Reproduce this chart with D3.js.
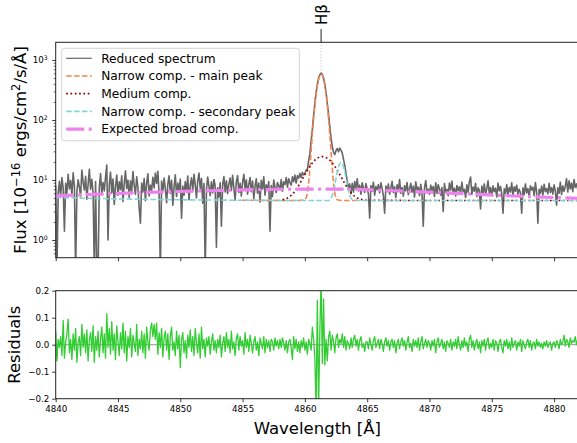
<!DOCTYPE html>
<html>
<head>
<meta charset="utf-8">
<script src="https://cdn.jsdelivr.net/npm/d3@7"></script>
<style>
  body { margin: 0; background: #fff; }
  svg { font-family: "DejaVu Sans", sans-serif; }
</style>
</head>
<body>
<svg id="chart" width="577" height="443"></svg>
<script>
// spectrum sampled every 0.1 A from 4840.0 (one line = 1 A)
const waveStart = 4840;
const waveStep = 0.1;

const spectrumFlux = [
  8.2, 0.3, 6.1, 9.5, 5.2, 11.0, 7.3, 1.4, 8.8, 6.0,
  12.4, 7.1, 9.8, 5.5, 13.2, 8.0, 0.3, 6.4, 10.1, 7.7,
  5.3, 14.6, 9.2, 6.8, 11.5, 4.8, 8.4, 15.1, 7.0, 10.3,
  6.2, 0.3, 9.4, 0.3, 0.3, 7.5, 12.8, 5.9, 9.1, 6.6,
  11.2, 17.8, 1.0, 8.3, 13.5, 6.1, 10.4, 3.9, 7.8, 12.1,
  5.6, 9.3, 6.9, 11.8, 4.4, 8.6, 14.2, 7.2, 10.0, 5.1,
  9.7, 6.4, 13.8, 8.1, 5.8, 11.3, 7.5, 3.4, 1.9, 8.9,
  6.3, 10.6, 4.5, 9.0, 12.7, 5.4, 8.2, 6.7, 11.1, 7.4,
  13.1, 8.8, 14.0, 5.7, 0.3, 9.6, 6.5, 10.8, 7.1, 4.2,
  8.5, 11.7, 6.0, 9.9, 3.8, 7.6, 12.2, 5.3, 8.9, 6.8,
  10.4, 2.3, 7.9, 5.6, 9.4, 6.3, 11.6, 4.7, 8.1, 10.9,
  6.6, 12.5, 8.3, 5.0, 9.8, 13.0, 7.2, 10.6, 4.1, 8.7,
  0.3, 6.9, 11.2, 7.8, 5.5, 9.3, 6.1, 10.2, 8.0, 0.76,
  7.4, 5.2, 9.0, 1.7, 8.4, 11.4, 6.3, 9.7, 5.9, 8.6,
  10.8, 6.7, 12.0, 7.3, 4.6, 9.5, 11.9, 6.2, 8.8, 5.4,
  9.2, 12.4, 7.0, 10.1, 5.8, 8.5, 11.0, 6.4, 9.6, 4.9,
  7.8, 10.5, 6.0, 8.9, 4.3, 9.9, 7.1, 11.3, 5.6, 8.3,
  6.7, 9.4, 1.4, 8.1, 5.3, 10.0, 7.5, 6.2, 9.1, 8.0,
  7.0, 10.2, 6.5, 9.3, 8.4, 11.0, 7.6, 10.5, 9.0, 8.2,
  11.3, 9.4, 12.1, 8.9, 11.8, 10.7, 12.9, 11.0, 13.4, 12.2,
  12.8, 14.5, 15.2, 21.0, 27.5, 45.0, 70.0, 121.0, 188.0, 288.0,
  390.0, 500.0, 568.0, 602.0, 575.0, 495.0, 398.0, 290.0, 190.0, 125.0,
  78.0, 50.0, 36.0, 29.0, 26.5, 31.0, 33.5, 29.5, 34.0, 31.5,
  28.0, 22.0, 17.5, 13.0, 9.5, 7.2, 8.6, 5.9, 8.8, 6.3,
  9.4, 7.1, 10.5, 6.6, 8.2, 5.8, 9.0, 7.4, 6.2, 8.7,
  7.0, 5.9, 2.3, 8.1, 6.5, 9.2, 5.6, 7.8, 6.9, 8.4,
  6.1, 9.0, 7.2, 5.5, 2.8, 7.9, 6.4, 8.6, 5.8, 7.3,
  9.5, 6.2, 7.7, 5.1, 8.3, 6.8, 10.2, 6.0, 7.5, 5.4,
  8.0, 6.6, 9.1, 5.7, 7.2, 8.8, 6.3, 7.9, 5.2, 9.3,
  6.9, 7.6, 5.5, 8.5, 6.1, 1.7, 7.4, 9.8, 6.4, 7.0,
  5.8, 8.2, 6.7, 7.8, 5.3, 9.0, 6.0, 8.4, 7.1, 5.6,
  7.5, 3.0, 8.7, 6.3, 7.0, 5.5, 8.9, 6.8, 9.6, 6.0,
  7.3, 5.4, 8.1, 6.6, 7.7, 5.9, 9.2, 6.4, 7.0, 5.1,
  8.3, 6.2, 9.4, 11.2, 5.8, 7.6, 6.5, 8.8, 5.3, 7.4,
  6.8, 3.3, 7.9, 6.1, 8.6, 5.7, 7.2, 9.7, 6.0, 7.5,
  5.5, 8.0, 6.4, 7.3, 5.2, 8.9, 6.6, 7.8, 5.9, 2.8,
  7.1, 6.0, 8.4, 5.6, 7.5, 6.3, 9.0, 5.4, 7.7, 6.5,
  8.2, 5.8, 7.0, 6.2, 2.8, 7.4, 5.7, 8.6, 6.1, 7.2,
  5.3, 8.0, 6.8, 7.6, 5.5, 9.1, 6.3, 1.9, 7.0, 6.0,
  7.9, 5.6, 8.5, 6.4, 7.2, 5.9, 8.8, 6.2, 7.5, 5.8,
  8.3, 6.6, 3.8, 7.4, 6.0, 9.2, 5.7, 8.0, 6.5, 7.8,
  10.5, 6.3, 9.7, 7.1, 8.9, 6.4, 10.2, 7.5, 8.6, 6.9
];

const residuals = [
  0.05, -0.06, 0.02, -0.01, 0.03, -0.04, 0.09, -0.05, 0.01, 0.04,
  0.095, -0.03, 0.02, -0.055, 0.04, -0.02, 0.06, -0.065, 0.01, 0.03,
  -0.04, 0.075, -0.01, 0.04, -0.03, 0.055, -0.06, 0.02, 0.045, -0.025,
  0.07, -0.065, 0.03, -0.02, 0.05, -0.045, 0.02, 0.065, -0.03, 0.04,
  -0.05, 0.115, -0.01, 0.06, -0.035, 0.085, -0.02, 0.04, -0.055, 0.07,
  0.01, -0.04, 0.045, -0.015, 0.08, -0.03, 0.05, -0.06, 0.03, -0.01,
  0.06, -0.045, 0.035, 0.005, -0.025, 0.075, -0.04, 0.02, -0.015, 0.05,
  -0.03, 0.04, -0.05, 0.065, 0.01, -0.02, 0.055, 0.08, 0.03, 0.075,
  0.02, 0.08, -0.035, 0.045, -0.01, 0.06, -0.045, 0.025, 0.05, -0.02,
  0.04, -0.055, 0.03, 0.065, -0.02, 0.01, -0.04, 0.05, -0.015, 0.035,
  -0.085, 0.02, 0.045, -0.03, 0.015, -0.05, 0.035, -0.01, 0.055, -0.025,
  0.03, -0.04, 0.06, 0.005, -0.03, 0.04, -0.05, 0.065, -0.015, 0.02,
  -0.045, 0.025, -0.005, 0.03, -0.035, 0.01, 0.04, -0.02, 0.015, -0.03,
  0.02, -0.01, 0.035, -0.045, 0.005, 0.03, -0.025, 0.045, -0.01, 0.02,
  -0.03, 0.05, -0.015, 0.01, -0.04, 0.025, 0.04, -0.02, 0.03, -0.005,
  0.015, -0.035, 0.045, -0.01, 0.02, -0.025, 0.035, 0.005, -0.03, 0.01,
  0.03, -0.02, 0.01, -0.04, 0.025, 0.005, -0.015, 0.03, -0.03, 0.02,
  -0.01, 0.015, -0.025, 0.02, 0.01, -0.02, 0.025, -0.005, 0.015, -0.015,
  0.02, -0.01, 0.025, 0.005, -0.02, 0.015, -0.03, 0.01, 0.02, -0.01,
  -0.055, 0.03, -0.015, 0.02, -0.025, 0.01, -0.03, 0.015, -0.01, 0.025,
  -0.02, 0.01, -0.035, 0.02, 0.005, -0.02, 0.065, 0.02, -0.05, -0.24,
  0.165, -0.24, 0.05, 0.24, -0.07, 0.17, -0.075, 0.02, -0.06, 0.03,
  0.05, -0.02, 0.035, 0.01, -0.03, 0.025, 0.04, -0.01, 0.02, 0.005,
  0.04, -0.01, 0.03, -0.02, 0.015, 0.005, -0.015, 0.025, -0.01, 0.02,
  0.035, -0.005, 0.02, -0.02, 0.015, 0.03, -0.01, 0.005, -0.025, 0.01,
  0.01, -0.015, 0.025, 0.0, -0.02, 0.015, 0.03, -0.01, 0.005, 0.02,
  -0.015, 0.02, 0.005, -0.025, 0.01, 0.025, -0.005, 0.015, -0.02, 0.01,
  0.02, -0.01, 0.015, -0.03, 0.005, 0.02, -0.015, 0.01, 0.025, -0.005,
  0.015, -0.02, 0.01, 0.03, -0.01, 0.005, -0.025, 0.02, -0.005, 0.015,
  -0.01, 0.025, -0.02, 0.01, 0.03, -0.015, 0.005, 0.02, -0.01, 0.015,
  0.005, -0.02, 0.015, -0.005, 0.02, -0.03, 0.01, 0.025, -0.01, 0.005,
  0.02, -0.015, 0.01, -0.025, 0.015, 0.005, -0.01, 0.02, -0.02, 0.01,
  -0.005, 0.02, -0.015, 0.03, 0.0, -0.02, 0.015, -0.01, 0.025, -0.005,
  0.01, -0.025, 0.02, 0.035, -0.01, 0.015, -0.02, 0.005, 0.02, -0.015,
  0.01, -0.03, 0.015, -0.005, 0.02, -0.02, 0.01, 0.025, -0.015, 0.005,
  -0.01, 0.02, -0.02, 0.015, 0.005, -0.025, 0.01, 0.02, -0.01, -0.03,
  0.015, -0.005, 0.02, -0.015, 0.01, -0.02, 0.025, -0.01, 0.005, 0.015,
  -0.02, 0.01, -0.005, 0.02, -0.025, 0.015, 0.0, -0.015, 0.01, 0.02,
  -0.01, 0.015, -0.02, 0.005, 0.01, -0.015, 0.02, -0.005, 0.01, -0.01,
  0.005, -0.015, 0.01, -0.005, 0.015, -0.01, 0.005, 0.01, -0.02, 0.005,
  0.01, -0.01, 0.015, 0.005, -0.015, 0.02, 0.0, 0.01, 0.035, -0.005,
  0.02, 0.01, -0.01, 0.025, 0.005, 0.015, 0.01, 0.03, 0.0, 0.02
];

// fitted components (wavelength / flux pairs)
const narrowMainWave = [4855, 4859.5,
  4860.0, 4860.1, 4860.2, 4860.3, 4860.4, 4860.5, 4860.6, 4860.7, 4860.8, 4860.9,
  4861.0, 4861.1, 4861.2, 4861.3, 4861.4, 4861.5, 4861.6, 4861.7, 4861.8, 4861.9,
  4862.0, 4862.1, 4862.2, 4862.3, 4862.4, 4862.5, 4862.6,
  4863, 4864.2];
const narrowMainFlux = [4.6, 4.56,
  4.7, 5.06, 6.11, 8.9, 15.55, 29.85, 57.0, 103.5, 174.5, 267.5,
  375.5, 477.5, 551.5, 579.5, 551.5, 477.5, 375.5, 267.5, 174.5, 103.5,
  57.0, 29.85, 15.55, 8.9, 6.11, 5.06, 4.7,
  4.56, 4.55];

const mediumWave = [
  4858.2, 4858.4, 4858.6, 4858.8, 4859.0, 4859.2, 4859.4, 4859.6, 4859.8,
  4860.0, 4860.2, 4860.4, 4860.6, 4860.8, 4861.0, 4861.2, 4861.4, 4861.6, 4861.8,
  4862.0, 4862.2, 4862.4, 4862.6, 4862.8, 4863.0, 4863.2, 4863.4, 4863.6, 4863.8,
  4864.0, 4864.2, 4864.4, 4864.6, 4864.8, 4865.0,
  4870, 4875, 4882];
const mediumFlux = [
  4.70, 4.81, 5.01, 5.33, 5.80, 6.50, 7.47, 8.76, 10.39,
  12.35, 14.55, 16.95, 19.25, 21.35, 23.05, 24.15, 24.55, 24.15, 23.05,
  21.35, 19.25, 16.95, 14.55, 12.35, 10.39, 8.76, 7.47, 6.50, 5.80,
  5.33, 5.01, 4.81, 4.70, 4.63, 4.59,
  4.55, 4.55, 4.55];

const narrowSecWave = [4840, 4845, 4850, 4855, 4860, 4861.9,
  4862.0, 4862.1, 4862.2, 4862.3, 4862.4, 4862.5, 4862.6, 4862.7, 4862.8, 4862.9,
  4863.0, 4863.1, 4863.2, 4863.3, 4863.4, 4863.5, 4863.6, 4863.7, 4863.8, 4863.9,
  4865, 4870, 4875, 4882];
const narrowSecFlux = [5.1, 4.85, 4.68, 4.6, 4.55, 4.56,
  4.72, 4.98, 5.54, 6.55, 8.25, 10.75, 13.65, 16.55, 18.75, 19.55,
  18.75, 16.55, 13.65, 10.75, 8.25, 6.55, 5.54, 4.98, 4.72, 4.6,
  4.55, 4.55, 4.55, 4.55];

const broadWave = [4840, 4844, 4848, 4852, 4856, 4860, 4864, 4868, 4872, 4876, 4880, 4882];
const broadFlux = [5.45, 5.85, 6.3, 6.6, 6.9, 7.05, 7.0, 6.5, 6.0, 5.5, 5.1, 4.95];

const legendLabels = ["Reduced spectrum", "Narrow comp. - main peak", "Medium comp.",
  "Narrow comp. - secondary peak", "Expected broad comp."];

const xTicks = [4840, 4845, 4850, 4855, 4860, 4865, 4870, 4875, 4880];
const logTicks = [1, 10, 100, 1000];
const residTicks = [-0.2, -0.1, 0.0, 0.1, 0.2];
const lineWave = 4861.3;
const lineName = "Hβ";

const wavelengths = spectrumFlux.map((d, i) => waveStart + i * waveStep);

const svg = d3.select("#chart");

const x = d3.scaleLinear().domain([4840, 4882]).range([55.7, 579]);
const yTop = d3.scaleLog().domain([0.507, 1972]).range([257.7, 42.3]);
const yRes = d3.scaleLinear().domain([-0.2, 0.2]).range([398.7, 290.7]);

const defs = svg.append("defs");
defs.append("clipPath").attr("id", "clipTop").append("rect")
    .attr("x", x.range()[0]).attr("y", yTop.range()[1])
    .attr("width", x.range()[1] - x.range()[0]).attr("height", yTop.range()[0] - yTop.range()[1]);
defs.append("clipPath").attr("id", "clipRes").append("rect")
    .attr("x", x.range()[0]).attr("y", yRes.range()[1])
    .attr("width", x.range()[1] - x.range()[0]).attr("height", yRes.range()[0] - yRes.range()[1]);

// ---------- top panel ----------
const topPlot = svg.append("g").attr("clip-path", "url(#clipTop)");

topPlot.append("line")
    .attr("x1", x(lineWave)).attr("x2", x(lineWave))
    .attr("y1", yTop.range()[1]).attr("y2", yTop(d3.max(spectrumFlux)))
    .attr("stroke", "#b8b8b8").attr("stroke-width", 1).attr("stroke-dasharray", "1,2");

const fluxLine = d3.line().x(d => x(d[0])).y(d => yTop(d[1]));
const modelLine = d3.line().x(d => x(d[0])).y(d => yTop(d[1])).curve(d3.curveMonotoneX);

topPlot.append("path")
    .datum(d3.zip(wavelengths, spectrumFlux))
    .attr("fill", "none").attr("stroke", "#666").attr("stroke-width", 1.6)
    .attr("stroke-linejoin", "round")
    .attr("d", fluxLine);

const models = [
  { wave: narrowMainWave, flux: narrowMainFlux, color: "#f7844f", width: 1.6, dash: "5.5,2.4" },
  { wave: mediumWave, flux: mediumFlux, color: "#8b0000", width: 1.7, dash: "1.7,2.6" },
  { wave: narrowSecWave, flux: narrowSecFlux, color: "#82d4d4", width: 1.6, dash: "5.5,2.4" },
  { wave: broadWave, flux: broadFlux, color: "#ee82ee", width: 3.2, dash: "18,4.5,3,4.5" }
];

models.forEach(m => {
  topPlot.append("path")
      .datum(d3.zip(m.wave, m.flux))
      .attr("fill", "none")
      .attr("stroke", m.color)
      .attr("stroke-width", m.width)
      .attr("stroke-dasharray", m.dash)
      .attr("d", modelLine);
});

// log y axis
const minorTicks = [0.1, 1, 10, 100]
    .flatMap(d => d3.range(2, 10).map(k => k * d))
    .filter(v => v >= yTop.domain()[0] && v <= yTop.domain()[1]);

svg.append("g")
    .attr("transform", `translate(${x.range()[0]},0)`)
    .call(d3.axisLeft(yTop).tickValues(minorTicks).tickSize(2).tickFormat(""))
    .call(g => g.select(".domain").remove())
    .call(g => g.selectAll(".tick line").attr("stroke", "#222").attr("stroke-width", 0.7));

svg.append("g")
    .attr("transform", `translate(${x.range()[0]},0)`)
    .call(d3.axisLeft(yTop).tickValues(logTicks).tickSize(3.5).tickPadding(4.5))
    .call(g => g.select(".domain").remove())
    .call(g => g.selectAll(".tick line").attr("stroke", "#222").attr("stroke-width", 0.9))
    .call(g => g.selectAll(".tick text").each(function(d) {
      const t = d3.select(this).text(null)
          .attr("fill", "#000").style("font-size", "8.7px").style("font-family", "DejaVu Sans");
      t.append("tspan").text("10");
      t.append("tspan").attr("dy", "-0.45em").style("font-size", "6.2px")
          .text(Math.round(Math.log10(d)));
    }));

svg.append("g")
    .attr("transform", `translate(0,${yTop.range()[0]})`)
    .call(d3.axisBottom(x).tickValues(xTicks).tickSize(3.5).tickFormat(""))
    .call(g => g.select(".domain").remove())
    .call(g => g.selectAll(".tick line").attr("stroke", "#222").attr("stroke-width", 0.9));

svg.append("rect")
    .attr("x", x.range()[0]).attr("y", yTop.range()[1])
    .attr("width", x.range()[1] - x.range()[0]).attr("height", yTop.range()[0] - yTop.range()[1])
    .attr("fill", "none").attr("stroke", "#222").attr("stroke-width", 1);

// line marker above the axes
svg.append("line")
    .attr("x1", x(lineWave)).attr("x2", x(lineWave))
    .attr("y1", 29).attr("y2", yTop.range()[1])
    .attr("stroke", "#222").attr("stroke-width", 1);
svg.append("text")
    .attr("transform", `translate(${x(lineWave) + 5.6},14.5) rotate(-90)`)
    .attr("text-anchor", "middle")
    .style("font-size", "15px")
    .text(lineName);

// legend
const legend = svg.append("g").attr("transform", "translate(61.7,48.3)");
legend.append("rect")
    .attr("width", 237.6).attr("height", 92.4).attr("rx", 2.5)
    .attr("fill", "#fff").attr("fill-opacity", 0.8)
    .attr("stroke", "#d4d4d4").attr("stroke-width", 1);

const legendStyles = [
  { color: "#666", width: 1.2, dash: null },
  models[0], models[1], models[2], models[3]
];

legendLabels.forEach((label, i) => {
  const ly = 10 + i * 17.7;
  const s = legendStyles[i];
  legend.append("line")
      .attr("x1", 4.5).attr("x2", 30).attr("y1", ly).attr("y2", ly)
      .attr("stroke", s.color).attr("stroke-width", s.width)
      .attr("stroke-dasharray", s.dash);
  legend.append("text")
      .attr("x", 39.5).attr("y", ly).attr("dy", "0.36em")
      .style("font-size", "12.2px")
      .text(label);
});

// ---------- residual panel ----------
const resPlot = svg.append("g").attr("clip-path", "url(#clipRes)");

resPlot.append("line")
    .attr("x1", x.range()[0]).attr("x2", x.range()[1])
    .attr("y1", yRes(0)).attr("y2", yRes(0))
    .attr("stroke", "#a8a8a8").attr("stroke-width", 1.2);

resPlot.append("path")
    .datum(d3.zip(wavelengths, residuals))
    .attr("fill", "none").attr("stroke", "#32cd32").attr("stroke-width", 1.3)
    .attr("stroke-linejoin", "round")
    .attr("d", d3.line().x(d => x(d[0])).y(d => yRes(d[1])));

svg.append("g")
    .attr("transform", `translate(${x.range()[0]},0)`)
    .call(d3.axisLeft(yRes).tickValues(residTicks).tickSize(3.5).tickPadding(2.9).tickFormat(d3.format(".1f")))
    .call(g => g.select(".domain").remove())
    .call(g => g.selectAll(".tick line").attr("stroke", "#222").attr("stroke-width", 0.9))
    .call(g => g.selectAll(".tick text").attr("fill", "#000")
        .style("font-size", "8.7px").style("font-family", "DejaVu Sans"));

svg.append("g")
    .attr("transform", `translate(0,${yRes.range()[0]})`)
    .call(d3.axisBottom(x).tickValues(xTicks).tickSize(3.5).tickPadding(3.8).tickFormat(d3.format("d")))
    .call(g => g.select(".domain").remove())
    .call(g => g.selectAll(".tick line").attr("stroke", "#222").attr("stroke-width", 0.9))
    .call(g => g.selectAll(".tick text").attr("fill", "#000")
        .style("font-size", "8.7px").style("font-family", "DejaVu Sans"));

svg.append("rect")
    .attr("x", x.range()[0]).attr("y", yRes.range()[1])
    .attr("width", x.range()[1] - x.range()[0]).attr("height", yRes.range()[0] - yRes.range()[1])
    .attr("fill", "none").attr("stroke", "#222").attr("stroke-width", 1);

// ---------- axis titles ----------
const fluxLabel = svg.append("text")
    .attr("transform", "translate(26,150) rotate(-90)")
    .attr("text-anchor", "middle")
    .style("font-size", "16.5px");
fluxLabel.append("tspan").text("Flux [10");
fluxLabel.append("tspan").attr("dy", -6.5).style("font-size", "11.5px").text("−16");
fluxLabel.append("tspan").attr("dy", 6.5).text(" ergs/cm");
fluxLabel.append("tspan").attr("dy", -6.5).style("font-size", "11.5px").text("2");
fluxLabel.append("tspan").attr("dy", 6.5).text("/s/Å]");

svg.append("text")
    .attr("transform", `translate(19.5,${yRes(0)}) rotate(-90)`)
    .attr("text-anchor", "middle")
    .style("font-size", "16.5px")
    .text("Residuals");

svg.append("text")
    .attr("x", (x.range()[0] + x.range()[1]) / 2)
    .attr("y", 434)
    .attr("text-anchor", "middle")
    .style("font-size", "16.5px")
    .text("Wavelength [Å]");
</script>
</body>
</html>
